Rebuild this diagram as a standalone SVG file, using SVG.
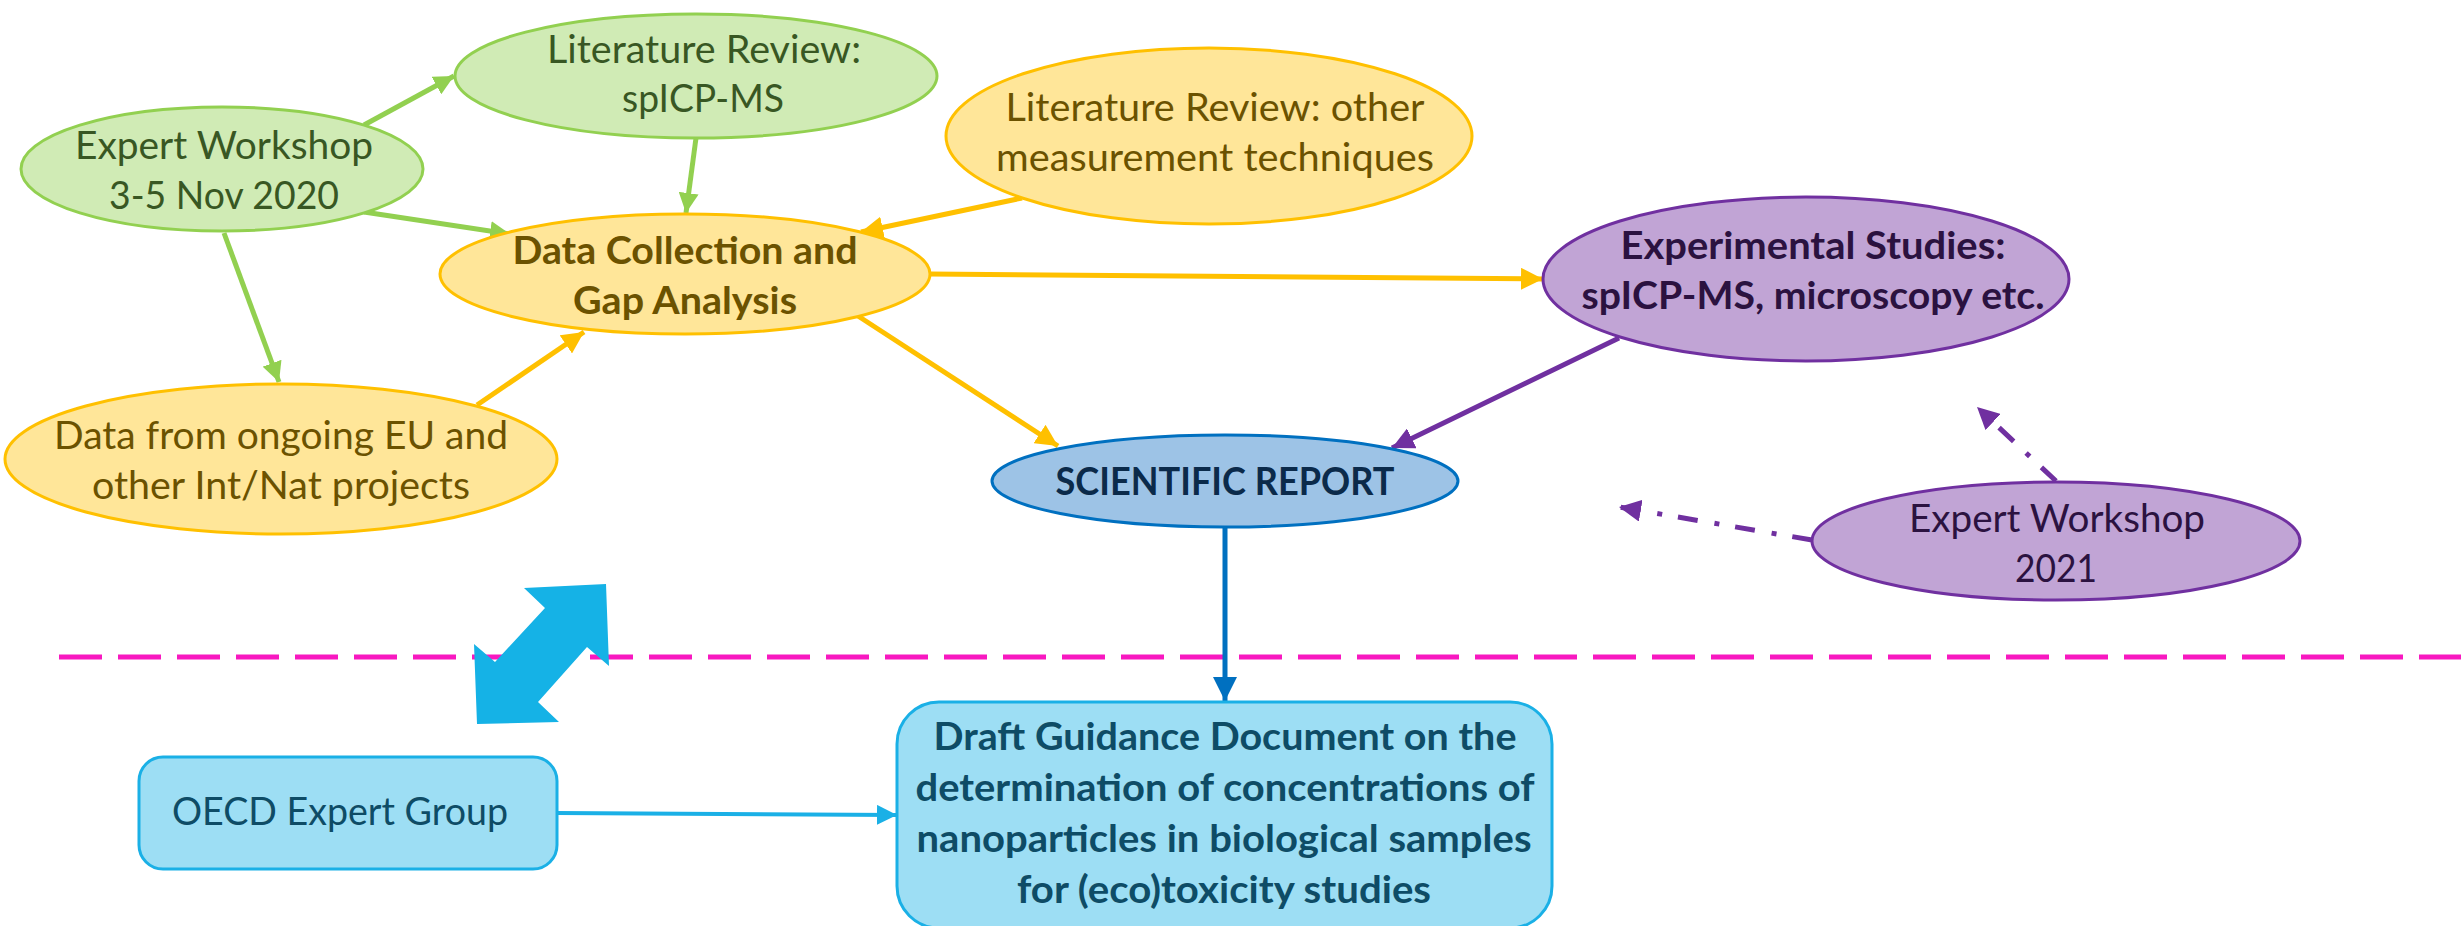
<svg xmlns="http://www.w3.org/2000/svg" width="2461" height="926" viewBox="0 0 2461 926">
  <style>
    text { font-family: Lato, "Open Sans", "Liberation Sans", sans-serif; font-size: 38px; text-anchor: middle; }
    .b { font-weight: bold; }
    .green ellipse { fill: #D0EBB5; stroke: #92D050; stroke-width: 3; }
    .green text { fill: #385723; }
    .gold ellipse { fill: #FFE699; stroke: #FFC000; stroke-width: 3; }
    .gold text { fill: #6B5200; }
    .violet ellipse { fill: #C1A4D5; stroke: #7030A0; stroke-width: 3; }
    .violet text { fill: #2B1240; }
    .report ellipse { fill: #9DC3E6; stroke: #0070C0; stroke-width: 3; }
    .report text { fill: #0B2A4A; }
    .box rect { fill: #9DDEF4; stroke: #1AB0E6; stroke-width: 3; }
    .box text { fill: #0E4C66; }
    .c { fill: none; stroke-width: 5; }
    .cg { stroke: #92D050; marker-end: url(#hg); }
    .cy { stroke: #FFC000; marker-end: url(#hy); }
    .cp { stroke: #7030A0; marker-end: url(#hp); }
    .cpd { stroke: #7030A0; stroke-dasharray: 20 16 5 17; marker-end: url(#hp); }
    .cb { stroke: #0070C0; marker-end: url(#hb); }
    .cc { stroke: #1AB0E6; stroke-width: 4; marker-end: url(#hc); }
  </style>
  <defs>
    <marker id="hg" viewBox="0 0 10 10" refX="10" refY="5" markerWidth="20" markerHeight="20" markerUnits="userSpaceOnUse" orient="auto"><path d="M0,0 L10,5 L0,10 z" fill="#92D050"/></marker>
    <marker id="hy" viewBox="0 0 10 10" refX="10" refY="5" markerWidth="22" markerHeight="22" markerUnits="userSpaceOnUse" orient="auto"><path d="M0,0 L10,5 L0,10 z" fill="#FFC000"/></marker>
    <marker id="hp" viewBox="0 0 10 10" refX="10" refY="5" markerWidth="22" markerHeight="22" markerUnits="userSpaceOnUse" orient="auto"><path d="M0,0 L10,5 L0,10 z" fill="#7030A0"/></marker>
    <marker id="hb" viewBox="0 0 10 10" refX="10" refY="5" markerWidth="24" markerHeight="24" markerUnits="userSpaceOnUse" orient="auto"><path d="M0,0 L10,5 L0,10 z" fill="#0070C0"/></marker>
    <marker id="hc" viewBox="0 0 10 10" refX="10" refY="5" markerWidth="20" markerHeight="20" markerUnits="userSpaceOnUse" orient="auto"><path d="M0,0 L10,5 L0,10 z" fill="#1AB0E6"/></marker>
  </defs>

  <rect width="2461" height="926" fill="#FFFFFF"/>

  <!-- boundary line -->
  <line x1="59" y1="657" x2="2461" y2="657" stroke="#F818C0" stroke-width="5" stroke-dasharray="43 16"/>

  <!-- two-way exchange arrow -->
  <polygon id="exchange" points="606,584 609,666 587,647 538,702 559,722 477,724 474,644 495,662 545,608 524,588" fill="#15B2E6"/>

  <g id="connectors">
    <line class="c cg" x1="364" y1="125" x2="454" y2="76"/>
    <line class="c cg" x1="364" y1="212" x2="510" y2="234"/>
    <line class="c cg" x1="696" y1="138" x2="686" y2="213"/>
    <line class="c cg" x1="224" y1="233" x2="279" y2="382"/>
    <line class="c cy" x1="477" y1="405" x2="584" y2="332"/>
    <line class="c cy" x1="1022" y1="198" x2="861" y2="232"/>
    <line class="c cy" x1="929" y1="274" x2="1543" y2="279"/>
    <line class="c cy" x1="858" y1="316" x2="1058" y2="446"/>
    <line class="c cp" x1="1619" y1="338" x2="1392" y2="448"/>
    <line class="c cb" x1="1225" y1="527" x2="1225" y2="701"/>
    <line class="c cc" x1="557" y1="813" x2="897" y2="815"/>
    <line class="c cpd" x1="1812" y1="540" x2="1619" y2="507"/>
    <line class="c cpd" x1="2056" y1="481" x2="1977" y2="407"/>
  </g>

  <g id="workshop-2020" class="green">
    <ellipse cx="222" cy="169" rx="201" ry="62"/>
    <text x="224" y="159" textLength="298" lengthAdjust="spacingAndGlyphs">Expert Workshop</text>
    <text x="224" y="209" textLength="230" lengthAdjust="spacingAndGlyphs">3-5 Nov 2020</text>
  </g>

  <g id="review-spicpms" class="green">
    <ellipse cx="696" cy="76" rx="241" ry="62"/>
    <text x="704" y="63" textLength="314" lengthAdjust="spacingAndGlyphs">Literature Review:</text>
    <text x="703" y="112" textLength="162" lengthAdjust="spacingAndGlyphs">spICP-MS</text>
  </g>

  <g id="review-other" class="gold">
    <ellipse cx="1209" cy="136" rx="263" ry="88"/>
    <text x="1215" y="121" textLength="419" lengthAdjust="spacingAndGlyphs">Literature Review: other</text>
    <text x="1215" y="171" textLength="438" lengthAdjust="spacingAndGlyphs">measurement techniques</text>
  </g>

  <g id="data-collection" class="gold">
    <ellipse cx="685" cy="274" rx="245" ry="60"/>
    <text class="b" x="685" y="264" textLength="345" lengthAdjust="spacingAndGlyphs">Data Collection and</text>
    <text class="b" x="685" y="314" textLength="224" lengthAdjust="spacingAndGlyphs">Gap Analysis</text>
  </g>

  <g id="ongoing-projects" class="gold">
    <ellipse cx="281" cy="459" rx="276" ry="75"/>
    <text x="281" y="449" textLength="454" lengthAdjust="spacingAndGlyphs">Data from ongoing EU and</text>
    <text x="281" y="499" textLength="378" lengthAdjust="spacingAndGlyphs">other Int/Nat projects</text>
  </g>

  <g id="experimental" class="violet">
    <ellipse cx="1806" cy="279" rx="263" ry="82"/>
    <text class="b" x="1813" y="259" textLength="385" lengthAdjust="spacingAndGlyphs">Experimental Studies:</text>
    <text class="b" x="1813" y="309" textLength="463" lengthAdjust="spacingAndGlyphs">spICP-MS, microscopy etc.</text>
  </g>

  <g id="workshop-2021" class="violet">
    <ellipse cx="2056" cy="541" rx="244" ry="59"/>
    <text x="2057" y="532" textLength="296" lengthAdjust="spacingAndGlyphs">Expert Workshop</text>
    <text x="2056" y="582" textLength="82" lengthAdjust="spacingAndGlyphs">2021</text>
  </g>

  <g id="scientific-report" class="report">
    <ellipse cx="1225" cy="481" rx="233" ry="46"/>
    <text class="b" x="1225" y="495" textLength="339" lengthAdjust="spacingAndGlyphs">SCIENTIFIC REPORT</text>
  </g>

  <g id="oecd-group" class="box">
    <rect x="139" y="757" width="418" height="112" rx="24"/>
    <text x="340" y="825" textLength="336" lengthAdjust="spacingAndGlyphs">OECD Expert Group</text>
  </g>

  <g id="guidance-document" class="box">
    <rect x="897" y="702" width="655" height="226" rx="42"/>
    <text class="b" x="1225" y="750" textLength="583" lengthAdjust="spacingAndGlyphs">Draft Guidance Document on the</text>
    <text class="b" x="1225" y="801" textLength="619" lengthAdjust="spacingAndGlyphs">determination of concentrations of</text>
    <text class="b" x="1224" y="852" textLength="615" lengthAdjust="spacingAndGlyphs">nanoparticles in biological samples</text>
    <text class="b" x="1224" y="903" textLength="414" lengthAdjust="spacingAndGlyphs">for (eco)toxicity studies</text>
  </g>
</svg>
